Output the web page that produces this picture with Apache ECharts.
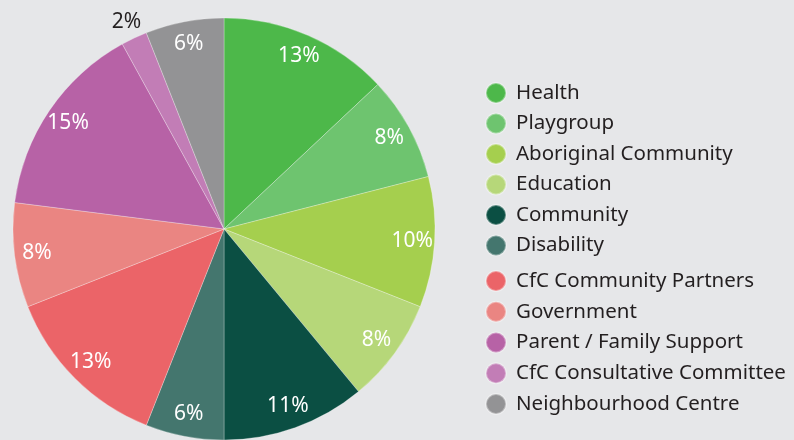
<!DOCTYPE html>
<html><head><meta charset="utf-8">
<script src="https://cdn.jsdelivr.net/npm/echarts@6/dist/echarts.min.js"></script>
<style>html,body{margin:0;padding:0;background:#e6e7e9}#c{width:794px;height:440px}</style>
</head><body><div id="c"></div>
<script>
const categories = ["Health","Playgroup","Aboriginal Community","Education","Community","Disability","CfC Community Partners","Government","Parent / Family Support","CfC Consultative Committee","Neighbourhood Centre"];
const values = [13,8,10,8,11,6,13,8,15,2,6];
const colors = ["#4db84a","#6ec46f","#a5cf4e","#b6d779","#0b4f43","#44766e","#eb6468","#ea8582","#b762a6","#c27db6","#939395"];
const outsideLabels = ["CfC Consultative Committee"];
const legendGroup1 = categories.slice(0,6);
const legendGroup2 = categories.slice(6);

const FONT = "Noto Sans";
const center = [224,229];
const R = 211;

const mainData = categories.map((n,i)=>({name:n,value:values[i],itemStyle:{color:colors[i]}}));
const innerLabelData = categories.map((n,i)=>({name:n,value:values[i],label:{show: !outsideLabels.includes(n)}}));
const outerLabelData = categories.map((n,i)=>({name:n,value:values[i],label:{show: outsideLabels.includes(n)}}));

const legendCommon = {orient:'vertical',left:480,icon:'circle',itemWidth:20,itemHeight:20,
  textStyle:{fontFamily:FONT,fontSize:20.5,color:'#231f20',lineHeight:20,padding:[0,0,0,5]},selectedMode:false};

const chart = echarts.init(document.getElementById('c'),null,{renderer:'canvas'});
chart.setOption({
  backgroundColor:'#e6e7e9',
  animation:false,
  legend:[
    Object.assign({},legendCommon,{top:77,itemGap:8.5,data:legendGroup1}),
    Object.assign({},legendCommon,{top:265,itemGap:8.75,data:legendGroup2})
  ],
  series:[
    {type:'pie',center:center,radius:[0,R],startAngle:90,clockwise:true,data:mainData,
     label:{show:false},labelLine:{show:false},silent:true,
     itemStyle:{borderColor:'rgba(255,255,255,0.35)',borderWidth:0.8}},
    {type:'pie',center:center,radius:[R-51,R],startAngle:90,clockwise:true,data:innerLabelData,
     silent:true,itemStyle:{color:'rgba(0,0,0,0)'},labelLine:{show:false},
     label:{position:'inside',formatter:'{c}%',color:'#ffffff',fontFamily:FONT,fontSize:21}},
    {type:'pie',center:center,radius:[R,R+30],startAngle:90,clockwise:true,data:outerLabelData,
     silent:true,itemStyle:{color:'rgba(0,0,0,0)'},labelLine:{show:false},
     label:{position:'inside',formatter:'{c}%',color:'#231f20',fontFamily:FONT,fontSize:21}}
  ]
});
</script></body></html>
